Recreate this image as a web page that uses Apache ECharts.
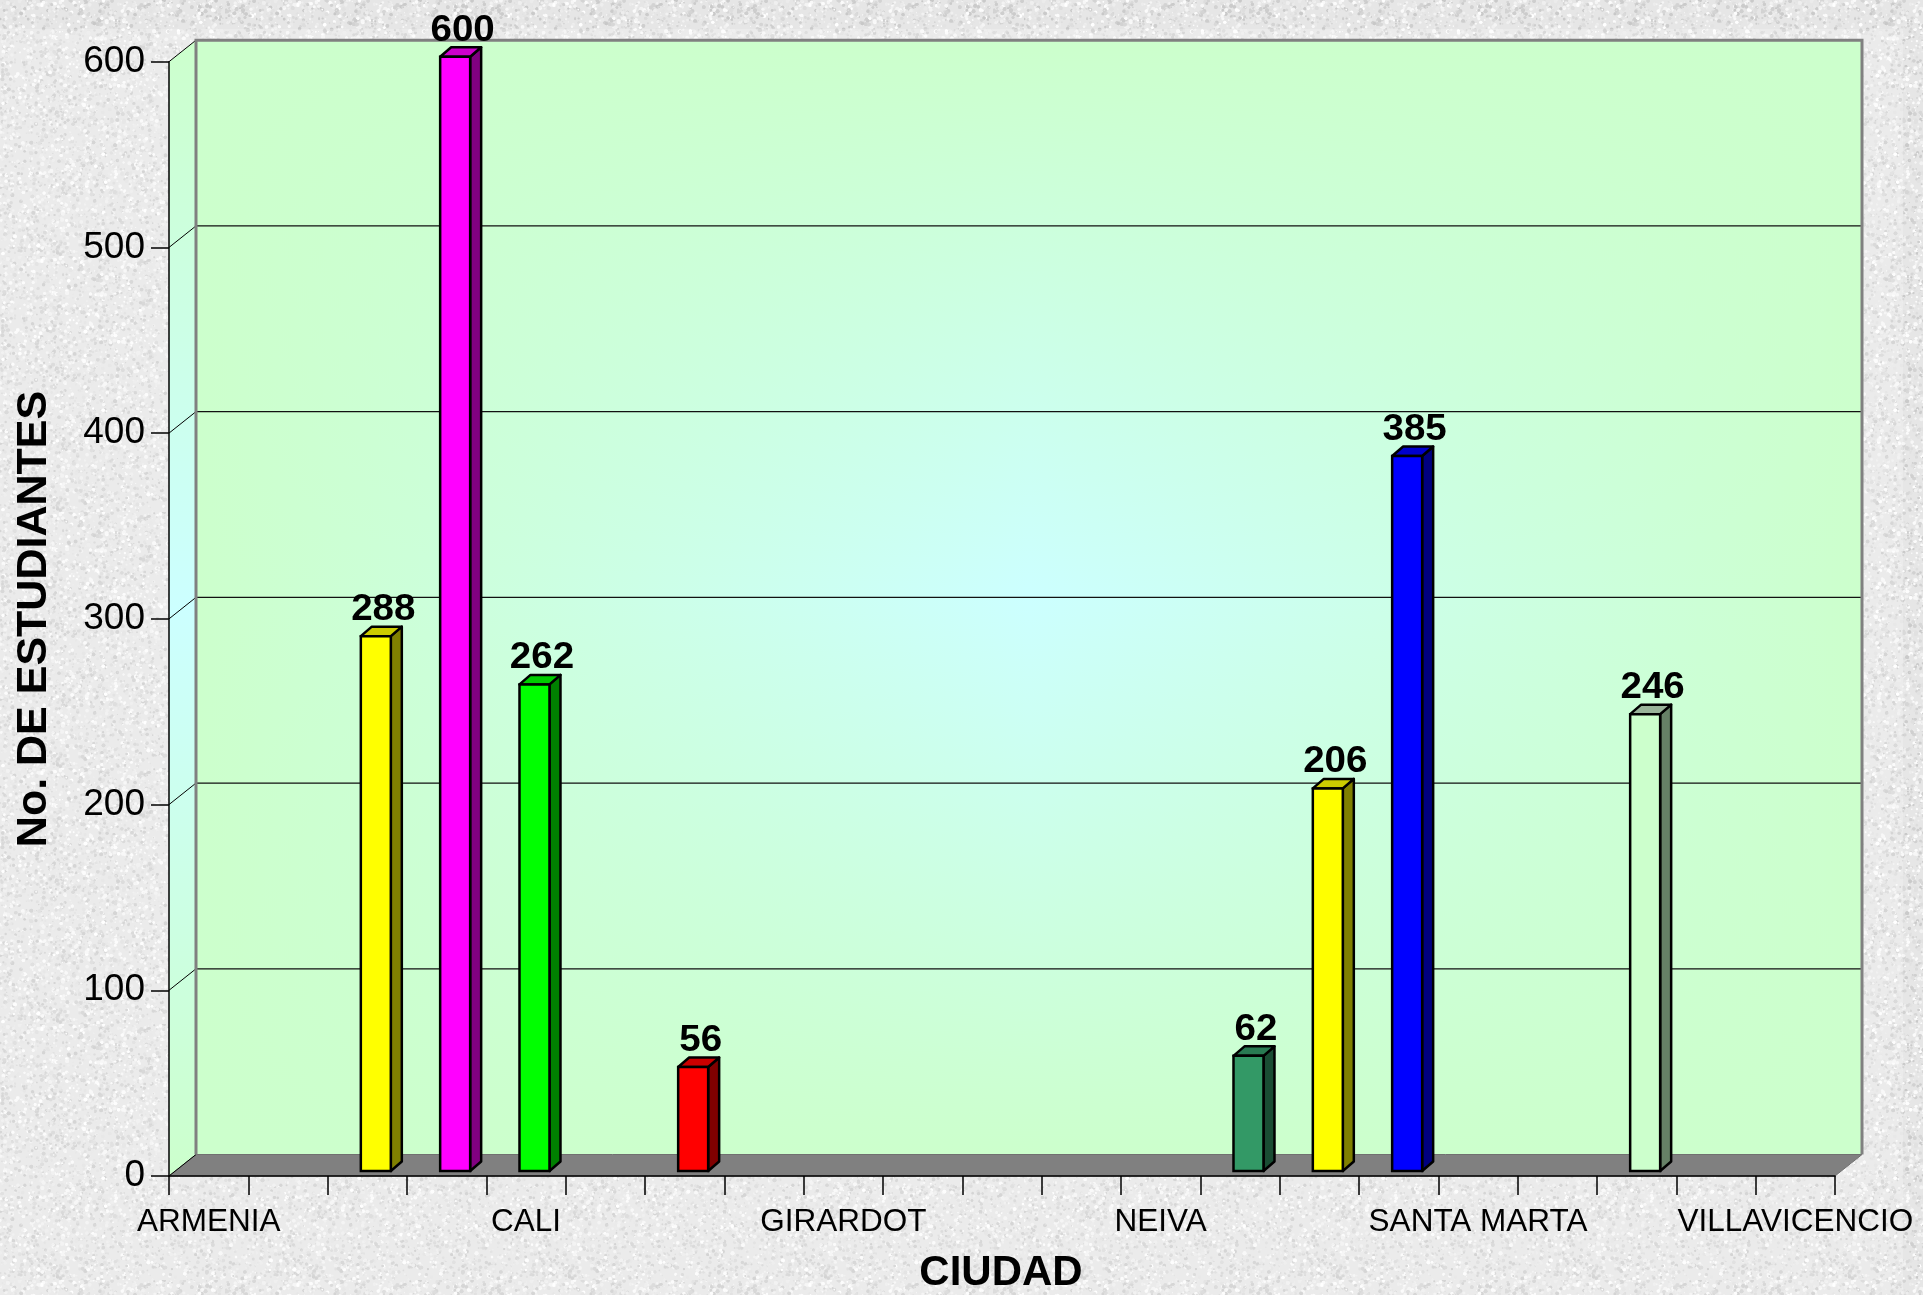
<!DOCTYPE html>
<html><head><meta charset="utf-8">
<script src="https://cdn.jsdelivr.net/npm/echarts@6/dist/echarts.min.js"></script>
<style>
html,body{margin:0;padding:0;width:1923px;height:1295px;overflow:hidden}
#wrap{position:relative;width:1923px;height:1295px;background-color:#e3e3e3}
#lite{position:absolute;left:0;top:29px;width:1903px;height:1266px;background:rgba(255,255,255,0.22)}
#chart{position:absolute;left:0;top:0;width:1923px;height:1295px}
</style></head><body>
<div id="wrap"><div id="lite"></div><div id="chart"></div></div>
<script>
// ---- data ----
const categories = ['ARMENIA','','','','CALI','','','','GIRARDOT','','','','NEIVA','','','','SANTA MARTA','','','','VILLAVICENCIO'];
const estudiantes = [null,null,288,600,262,null,56,null,null,null,null,null,null,62,206,385,null,null,246,null,null];
const yTicks = [0,100,200,300,400,500,600];
const yTitle = 'No. DE ESTUDIANTES';
const xTitle = 'CIUDAD';

// ---- styles (front, side, top) per category ----
const barColors = [null,null,
  ['#FFFF00','#808000','#CCCC00'],
  ['#FF00FF','#800080','#CC00CC'],
  ['#00FF00','#008000','#00CC00'],
  null,
  ['#FF0000','#800000','#CC0000'],
  null,null,null,null,null,null,
  ['#339966','#1A4D33','#297A52'],
  ['#FFFF00','#808000','#CCCC00'],
  ['#0000FF','#000080','#0000CC'],
  null,null,
  ['#CCFFCC','#668066','#99B399'],
  null,null];

// background texture (deterministic)
(function(){
  const c=document.createElement('canvas'); c.width=c.height=256;
  const g=c.getContext('2d'); g.fillStyle='#e6e6e6'; g.fillRect(0,0,256,256);
  let s=987654;
  const rnd=()=>{s=(s*1103515245+12345)%2147483648; return s/2147483648;};
  for(let k=0;k<9000;k++){
    const x=rnd()*256,y=rnd()*256,r=0.5+rnd()*1.5;
    const v=Math.round(200+rnd()*55);
    g.fillStyle='rgb('+v+','+v+','+v+')';
    g.beginPath(); g.arc(x,y,r,0,Math.PI*2); g.fill();
  }
  document.getElementById('wrap').style.backgroundImage='url('+c.toDataURL()+')';
})();

const DX = 27, DY = -21.5;      // wall depth
const BDX = 11, BDY = -9.5;     // bar depth
const FONT = '"Liberation Sans", Arial, sans-serif';

function frame(api){
  const w = api.size([1,0])[0];
  const p0 = api.coord([0,0]);
  const xL = p0[0]-w/2;
  const xR = api.coord([categories.length-1,0])[0]+w/2;
  const yB = p0[1];
  const yT = api.coord([0,yTicks[yTicks.length-1]])[1];
  return {w,xL,xR,yB,yT};
}

function renderWalls(params, api){
  const f = frame(api);
  const G='#CCFFCC', C='#CCFFFF';
  return {type:'group', children:[
    {type:'rect', shape:{x:f.xL+DX,y:f.yT+DY,width:f.xR-f.xL,height:f.yB-f.yT},
      style:{fill:new echarts.graphic.LinearGradient(0,0,1,0,[{offset:0,color:G},{offset:0.5,color:C},{offset:1,color:G}])}},
    {type:'rect', shape:{x:f.xL+DX,y:f.yT+DY,width:f.xR-f.xL,height:f.yB-f.yT},
      style:{fill:new echarts.graphic.LinearGradient(0,0,0,1,[{offset:0,color:'rgba(204,255,204,1)'},{offset:0.5,color:'rgba(204,255,204,0)'},{offset:1,color:'rgba(204,255,204,1)'}])}},
    {type:'polygon', shape:{points:[[f.xL,f.yT],[f.xL+DX,f.yT+DY],[f.xL+DX,f.yB+DY],[f.xL,f.yB]]},
      style:{fill:new echarts.graphic.LinearGradient(0,0,0,1,[{offset:0,color:G},{offset:0.5,color:C},{offset:1,color:G}])}},
    {type:'polygon', shape:{points:[[f.xL,f.yB],[f.xR,f.yB],[f.xR+DX,f.yB+DY],[f.xL+DX,f.yB+DY]]},
      style:{fill:'#808080', stroke:'#707070', lineWidth:1}}
  ]};
}

function renderGrid(params, api){
  const f = frame(api);
  const v = api.value(1);
  const y = api.coord([0,v])[1];
  const kids = [{type:'line', shape:{x1:f.xL,y1:y,x2:f.xL+DX,y2:y+DY}, style:{stroke:'#000',lineWidth:1}}];
  if (v !== yTicks[0] && v !== yTicks[yTicks.length-1]) {
    kids.push({type:'line', shape:{x1:f.xL+DX,y1:y+DY,x2:f.xR+DX,y2:y+DY}, style:{stroke:'#111',lineWidth:1.2}});
  }
  if (v === yTicks[yTicks.length-1]) {
    kids.push({type:'polyline', shape:{points:[[f.xL+DX,f.yB+DY],[f.xL+DX,y+DY],[f.xR+DX,y+DY],[f.xR+DX,f.yB+DY]]},
      style:{stroke:'#808080',lineWidth:3,fill:null}});
  }
  return {type:'group', children:kids};
}

function renderBar(params, api){
  const i = api.value(0), v = api.value(1);
  const c = barColors[i];
  const w = api.size([1,0])[0];
  const base = api.coord([i,0]), top = api.coord([i,v]);
  const fw = w*0.378;
  const x0 = base[0] - w*0.082;
  const lift = 5;
  const yb = base[1]-lift, yt = top[1]-lift;
  return {type:'group', children:[
    {type:'polygon', shape:{points:[[x0+fw,yt],[x0+fw+BDX,yt+BDY],[x0+fw+BDX,yb+BDY],[x0+fw,yb]]},
      style:{fill:c[1],stroke:'#000',lineWidth:2.5,lineJoin:'round'}},
    {type:'polygon', shape:{points:[[x0,yt],[x0+BDX,yt+BDY],[x0+fw+BDX,yt+BDY],[x0+fw,yt]]},
      style:{fill:c[2],stroke:'#000',lineWidth:2.5,lineJoin:'round'}},
    {type:'rect', shape:{x:x0,y:yt,width:fw,height:yb-yt},
      style:{fill:c[0],stroke:'#000',lineWidth:2.5}},
    {type:'text', x:x0+fw/2+BDX/2+2, y:yt-26, scaleX:1.07,
      style:{text:String(v), x:0, y:0, align:'center', verticalAlign:'middle',
      fontSize:36, fontWeight:'bold', fontFamily:FONT, fill:'#000'}}
  ]};
}

const chart = echarts.init(document.getElementById('chart'), null, {renderer:'canvas'});
chart.setOption({
  backgroundColor:'transparent',
  animation:false,
  grid:{left:169, right:88, top:61.7, bottom:119, containLabel:false},
  xAxis:{type:'category', data:categories, boundaryGap:true, z:3,
    axisLine:{show:true, lineStyle:{color:'#000', width:1.5}},
    axisTick:{show:true, interval:0, length:19, lineStyle:{color:'#000', width:1.5}},
    axisLabel:{interval:0, margin:30, fontSize:31.5, color:'#000', fontFamily:FONT},
    splitLine:{show:false}},
  yAxis:{type:'value', min:yTicks[0], max:yTicks[yTicks.length-1], interval:100, z:3,
    axisLine:{show:true, lineStyle:{color:'#000', width:1.5}},
    axisTick:{show:true, length:18, lineStyle:{color:'#000', width:1.5}},
    axisLabel:{margin:24, fontSize:37, color:'#000', fontFamily:FONT},
    splitLine:{show:false}},
  series:[
    {type:'custom', z:1, clip:false, silent:true, renderItem:renderWalls, data:[[0,0]], encode:{x:0,y:1}},
    {type:'custom', z:1, clip:false, silent:true, renderItem:renderGrid, data:yTicks.map(v=>[0,v]), encode:{x:0,y:1}},
    {type:'custom', z:5, clip:false, renderItem:renderBar,
      data:estudiantes.map((v,i)=>[i,v]).filter(d=>d[1]!=null), encode:{x:0,y:1}}
  ],
  graphic:[
    {type:'text', x:34, y:619, rotation:Math.PI/2, z:10,
      style:{text:yTitle, fontSize:43, fontWeight:'bold', fontFamily:FONT, align:'center', verticalAlign:'middle', fill:'#000'}},
    {type:'text', x:1001, y:1273, z:10,
      style:{text:xTitle, fontSize:42, fontWeight:'bold', fontFamily:FONT, align:'center', verticalAlign:'middle', fill:'#000'}}
  ]
});
</script>
</body></html>
